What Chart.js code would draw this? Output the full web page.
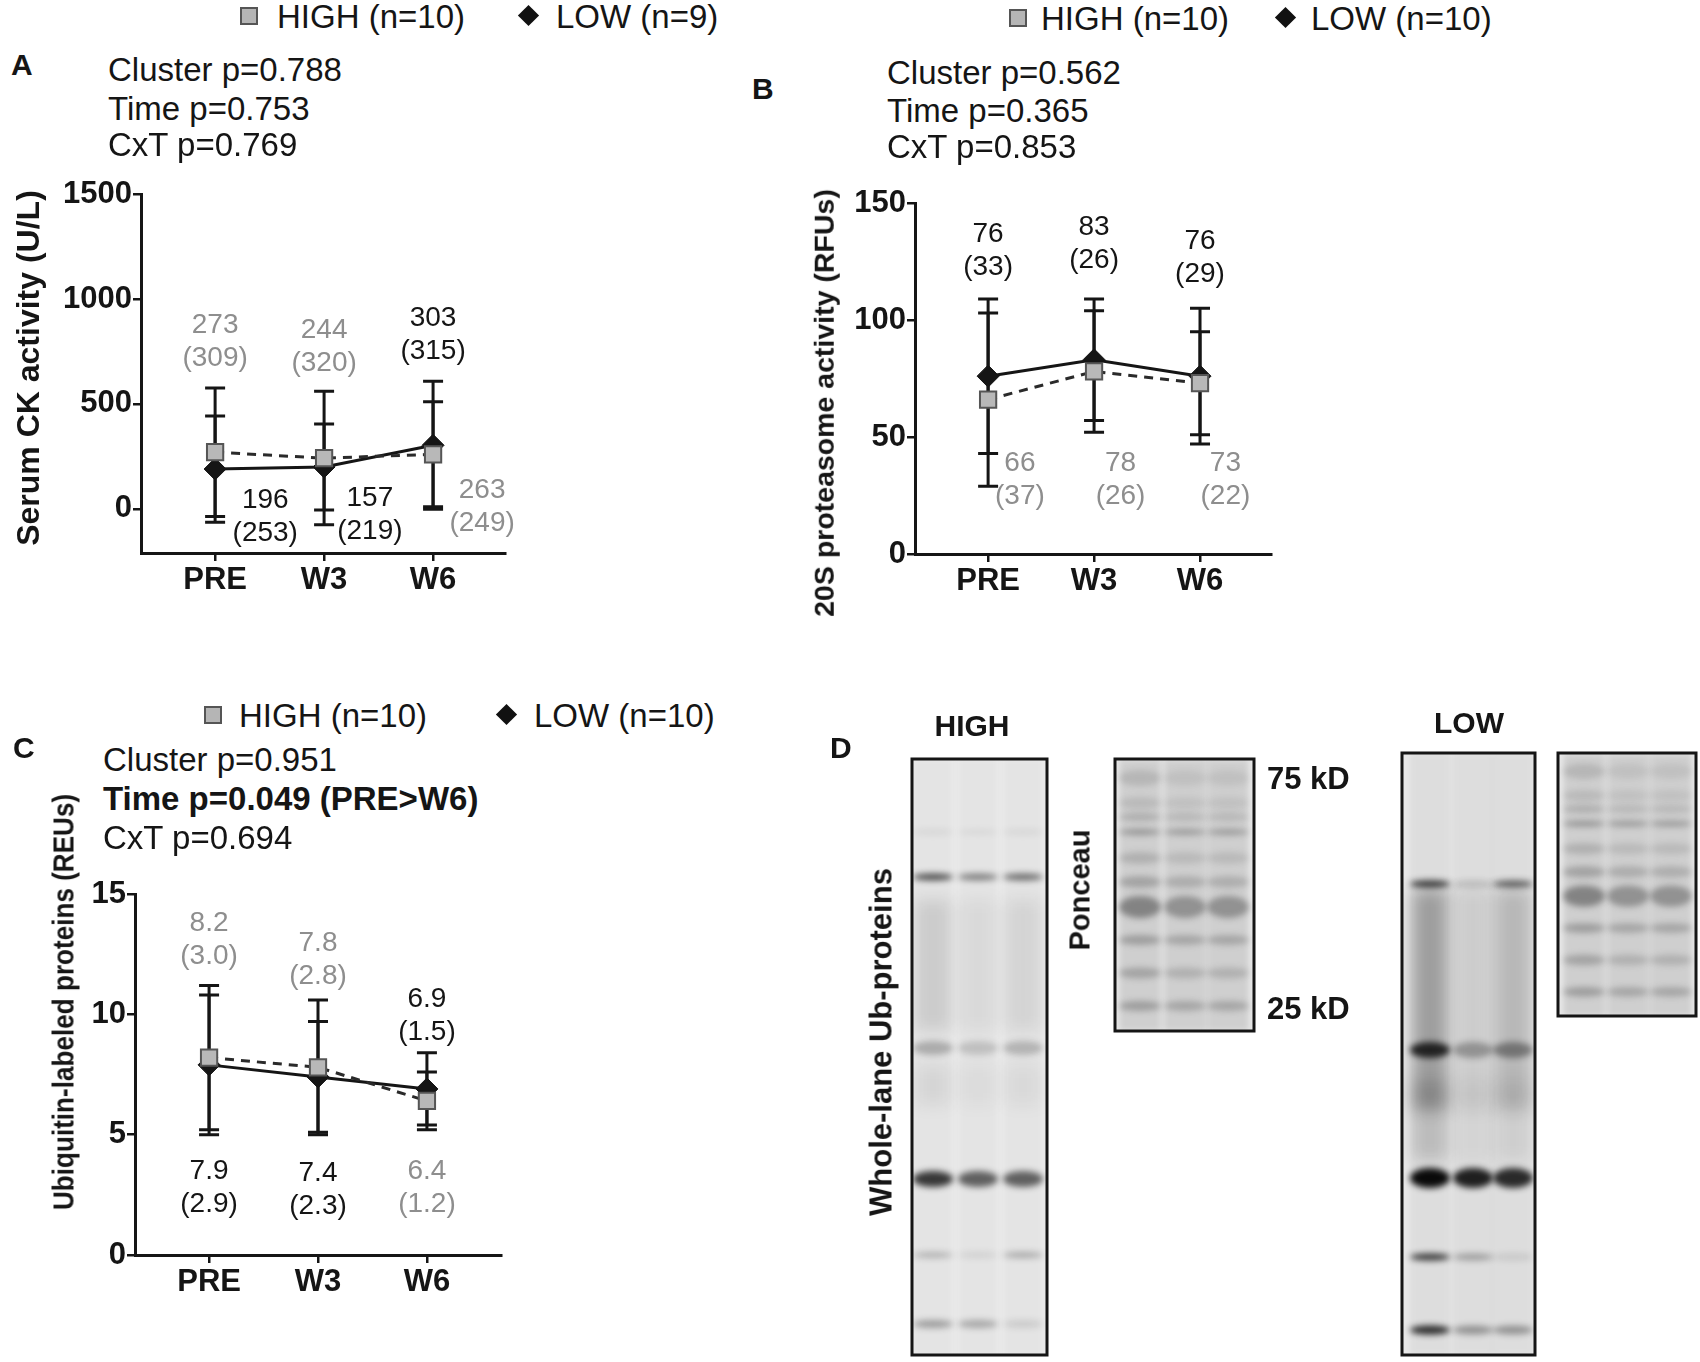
<!DOCTYPE html>
<html>
<head>
<meta charset="utf-8">
<script src="https://cdn.jsdelivr.net/npm/chart.js@4.4.1/dist/chart.umd.min.js"></script>
<style>
  html, body { margin: 0; padding: 0; background: #fff; }
  body { width: 1700px; height: 1362px; position: relative; overflow: hidden;
         font-family: 'Liberation Sans', Arial, sans-serif; color: #151515; }
  .t { position: absolute; white-space: nowrap; line-height: 1; transform: translateY(-50%); }
  .stat, .legend { font-size: 33px; }
  .letter { font-size: 30px; font-weight: bold; }
  .bold { font-weight: bold; }
  .ytitle { position: absolute; white-space: nowrap; font-weight: bold; line-height: 1; }
  canvas { position: absolute; }
  .sq { position: absolute; width: 14px; height: 14px; background: #b5b5b5; border: 2px solid #555; }
  .dm { position: absolute; width: 15px; height: 15px; background: #111; transform: rotate(45deg); }
</style>
</head>
<body>

<canvas id="chartA" width="500" height="475" style="left:40px;top:150px"></canvas>
<canvas id="chartB" width="490" height="470" style="left:815px;top:160px"></canvas>
<canvas id="chartC" width="500" height="470" style="left:35px;top:850px"></canvas>
<canvas id="blots" width="880" height="662" style="left:820px;top:700px"></canvas>

<!-- panel A header -->
<div class="sq" style="left:240px;top:7px"></div>
<div class="t legend" style="left:277px;top:16px">HIGH (n=10)</div>
<div class="dm" style="left:521px;top:8px"></div>
<div class="t legend" style="left:556px;top:16px">LOW (n=9)</div>
<div class="t letter" style="left:11px;top:65px">A</div>
<div class="t stat" style="left:108px;top:69px">Cluster p=0.788</div>
<div class="t stat" style="left:108px;top:108px">Time p=0.753</div>
<div class="t stat" style="left:108px;top:144px">CxT p=0.769</div>
<div class="ytitle" style="left:28px;top:368px;font-size:32px;transform:translate(-50%,-50%) rotate(-90deg)">Serum CK activity (U/L)</div>

<!-- panel B header -->
<div class="sq" style="left:1009px;top:9px"></div>
<div class="t legend" style="left:1041px;top:18px">HIGH (n=10)</div>
<div class="dm" style="left:1278px;top:10px"></div>
<div class="t legend" style="left:1311px;top:18px">LOW (n=10)</div>
<div class="t letter" style="left:752px;top:89px">B</div>
<div class="t stat" style="left:887px;top:72px">Cluster p=0.562</div>
<div class="t stat" style="left:887px;top:110px">Time p=0.365</div>
<div class="t stat" style="left:887px;top:146px">CxT p=0.853</div>
<div class="ytitle" style="left:824px;top:403px;font-size:28.5px;transform:translate(-50%,-50%) rotate(-90deg)">20S proteasome activity (RFUs)</div>

<!-- panel C header -->
<div class="sq" style="left:204px;top:706px"></div>
<div class="t legend" style="left:239px;top:715px">HIGH (n=10)</div>
<div class="dm" style="left:499px;top:707px"></div>
<div class="t legend" style="left:534px;top:715px">LOW (n=10)</div>
<div class="t letter" style="left:13px;top:748px">C</div>
<div class="t stat" style="left:103px;top:759px">Cluster p=0.951</div>
<div class="t stat bold" style="left:103px;top:798px">Time p=0.049 (PRE&gt;W6)</div>
<div class="t stat" style="left:103px;top:837px">CxT p=0.694</div>
<div class="ytitle" style="left:64px;top:1002px;font-size:29px;transform:translate(-50%,-50%) rotate(-90deg) scaleX(0.9)">Ubiquitin-labeled proteins (REUs)</div>

<!-- panel D labels -->
<div class="t letter" style="left:830px;top:748px">D</div>
<div class="t letter" style="left:972px;top:726px;transform:translate(-50%,-50%)">HIGH</div>
<div class="t letter" style="left:1469px;top:723px;transform:translate(-50%,-50%)">LOW</div>
<div class="t bold" style="left:1267px;top:778px;font-size:31px">75 kD</div>
<div class="t bold" style="left:1267px;top:1008px;font-size:31px">25 kD</div>
<div class="ytitle" style="left:1080px;top:890px;font-size:29px;transform:translate(-50%,-50%) rotate(-90deg)">Ponceau</div>
<div class="ytitle" style="left:881px;top:1042px;font-size:31px;transform:translate(-50%,-50%) rotate(-90deg)">Whole-lane Ub-proteins</div>

<script>
const timePoints = ['PRE', 'W3', 'W6'];

// A: serum CK activity (U/L), plotted mean and SD
const ckHighMean = [270, 242, 260];
const ckHighSd = [306, 318, 250];
const ckLowMean = [190, 200, 303];
const ckLowSd = [253, 205, 305];
const ckTicks = [0, 500, 1000, 1500];
// printed "mean (SD)" labels
const ckHighText = [['273', '309'], ['244', '320'], ['263', '249']];
const ckLowText = [['196', '253'], ['157', '219'], ['303', '315']];

// B: 20S proteasome activity (RFUs)
const protHighMean = [66, 78, 73];
const protHighSd = [37, 26, 22];
const protLowMean = [76, 83, 76];
const protLowSd = [33, 26, 29];
const protTicks = [0, 50, 100, 150];
const protHighText = [['66', '37'], ['78', '26'], ['73', '22']];
const protLowText = [['76', '33'], ['83', '26'], ['76', '29']];

// C: ubiquitin-labeled proteins (REUs)
const ubHighMean = [8.2, 7.8, 6.4];
const ubHighSd = [3.0, 2.8, 1.2];
const ubLowMean = [7.9, 7.4, 6.9];
const ubLowSd = [2.9, 2.3, 1.5];
const ubTicks = [0, 5, 10, 15];
const ubHighText = [['8.2', '3.0'], ['7.8', '2.8'], ['6.4', '1.2']];
const ubLowText = [['7.9', '2.9'], ['7.4', '2.3'], ['6.9', '1.5']];

const FONT = "'Liberation Sans', Arial, sans-serif";
const INK = '#151515';
const GREY_TEXT = '#8e8e8e';

Chart.defaults.font.family = FONT;

// where the "mean (SD)" text sits, in data units [x, y]
const ckSpots = { high: [[0, 798], [1, 774], [2.45, 14]], low: [[0.46, -33], [1.42, -24], [2, 831]] };
const protSpots = { high: [[0.3, 32], [1.25, 32], [2.24, 32]], low: [[0, 130], [1, 132.7], [2, 126.7]] };
const ubSpots = { high: [[0, 13.1], [1, 12.3], [2, 2.82]], low: [[0, 2.82], [1, 2.74], [2, 9.96]] };

function toPoints(values) {
  return values.map((v, i) => ({ x: i, y: v }));
}

// mean +/- SD whiskers, drawn below the lines and markers
const errorBars = {
  id: 'errorBars',
  beforeDatasetsDraw(chart) {
    const { ctx, scales: { x, y } } = chart;
    ctx.save();
    ctx.strokeStyle = INK;
    ctx.lineWidth = 3;
    chart.data.datasets.forEach((ds) => {
      ds.data.forEach((pt, j) => {
        const px = x.getPixelForValue(pt.x);
        const top = y.getPixelForValue(pt.y + ds.errors[j]);
        const bot = y.getPixelForValue(pt.y - ds.errors[j]);
        ctx.beginPath();
        ctx.moveTo(px, top);
        ctx.lineTo(px, bot);
        ctx.moveTo(px - 10, top);
        ctx.lineTo(px + 10, top);
        ctx.moveTo(px - 10, bot);
        ctx.lineTo(px + 10, bot);
        ctx.stroke();
      });
    });
    ctx.restore();
  }
};

function meanLabels(items) {
  return {
    id: 'meanLabels',
    afterDatasetsDraw(chart) {
      const { ctx, scales: { x, y } } = chart;
      ctx.save();
      ctx.font = '28px ' + FONT;
      ctx.textAlign = 'center';
      ctx.textBaseline = 'middle';
      items.forEach((item) => {
        const px = x.getPixelForValue(item.at[0]);
        const py = y.getPixelForValue(item.at[1]);
        ctx.fillStyle = item.color;
        ctx.fillText(item.text[0], px, py - 16);
        ctx.fillText('(' + item.text[1] + ')', px, py + 17);
      });
      ctx.restore();
    }
  };
}

function buildItems(highText, lowText, spots) {
  const high = highText.map((t, i) => ({ text: t, at: spots.high[i], color: GREY_TEXT }));
  const low = lowText.map((t, i) => ({ text: t, at: spots.low[i], color: INK }));
  return high.concat(low);
}

function drawPanel(id, cfg) {
  return new Chart(document.getElementById(id), {
    type: 'line',
    data: {
      datasets: [
        {
          label: 'HIGH',
          data: toPoints(cfg.highMean),
          errors: cfg.highSd,
          borderColor: '#2a2a2a',
          borderWidth: 3,
          borderDash: [9, 7],
          pointStyle: 'rect',
          pointRadius: 11.5,
          pointBackgroundColor: '#b8b8b8',
          pointBorderColor: '#555',
          pointBorderWidth: 2
        },
        {
          label: 'LOW',
          data: toPoints(cfg.lowMean),
          errors: cfg.lowSd,
          borderColor: INK,
          borderWidth: 3,
          pointStyle: 'rectRot',
          pointRadius: 11,
          pointBackgroundColor: INK,
          pointBorderColor: INK,
          pointBorderWidth: 1
        }
      ]
    },
    options: {
      responsive: false,
      animation: false,
      layout: { autoPadding: false, padding: cfg.padding },
      plugins: { legend: { display: false }, tooltip: { enabled: false } },
      scales: {
        x: {
          type: 'linear',
          min: cfg.xRange[0],
          max: cfg.xRange[1],
          afterBuildTicks: (s) => { s.ticks = timePoints.map((_, i) => ({ value: i })); },
          afterFit: (s) => { s.height = 60; },
          ticks: {
            callback: (v) => timePoints[v],
            font: { size: 31, weight: 'bold' },
            color: INK,
            padding: 1
          },
          grid: { drawOnChartArea: false, tickLength: 8, lineWidth: 2.5, color: INK },
          border: { color: INK, width: 3 }
        },
        y: {
          type: 'linear',
          min: cfg.yRange[0],
          max: cfg.yRange[1],
          afterBuildTicks: (s) => { s.ticks = cfg.ticks.map((v) => ({ value: v })); },
          afterFit: (s) => { s.width = cfg.yWidth; },
          ticks: {
            callback: (v) => String(v),
            font: { size: 31, weight: 'bold' },
            color: INK,
            padding: 1
          },
          grid: { drawOnChartArea: false, tickLength: 8, lineWidth: 2.5, color: INK },
          border: { color: INK, width: 3 }
        }
      }
    },
    plugins: [errorBars, meanLabels(cfg.items)]
  });
}

drawPanel('chartA', {
  highMean: ckHighMean, highSd: ckHighSd, lowMean: ckLowMean, lowSd: ckLowSd,
  ticks: ckTicks, yRange: [-210, 1500], xRange: [-0.68, 2.66],
  yWidth: 101, padding: { left: 0, top: 44, right: 35, bottom: 12 },
  items: buildItems(ckHighText, ckLowText, ckSpots)
});

drawPanel('chartB', {
  highMean: protHighMean, highSd: protHighSd, lowMean: protLowMean, lowSd: protLowSd,
  ticks: protTicks, yRange: [0, 150], xRange: [-0.69, 2.67],
  yWidth: 100, padding: { left: 0, top: 43, right: 34, bottom: 16 },
  items: buildItems(protHighText, protLowText, protSpots)
});

drawPanel('chartC', {
  highMean: ubHighMean, highSd: ubHighSd, lowMean: ubLowMean, lowSd: ubLowSd,
  ticks: ubTicks, yRange: [0, 15], xRange: [-0.68, 2.68],
  yWidth: 100, padding: { left: 0, top: 44, right: 34, bottom: 5 },
  items: buildItems(ubHighText, ubLowText, ubSpots)
});

// ---- panel D: blot images (page coordinates, shifted into the canvas) ----
const blotOrigin = [820, 700];

const highBlotBands = [
  { y: 832, h: 3, a: [0.08, 0.06, 0.08] },
  { y: 877, h: 5, a: [0.75, 0.5, 0.6] },
  { y: 965, h: 130, a: [0.12, 0.05, 0.08] },
  { y: 1048, h: 12, a: [0.28, 0.18, 0.24] },
  { y: 1085, h: 40, a: [0.07, 0.04, 0.05] },
  { y: 1179, h: 14, a: [0.85, 0.65, 0.65] },
  { y: 1255, h: 4, a: [0.25, 0.1, 0.3] },
  { y: 1324, h: 6, a: [0.35, 0.3, 0.12] }
];
const lowBlotBands = [
  { y: 884, h: 5, a: [0.8, 0.15, 0.6] },
  { y: 1000, h: 220, a: [0.3, 0.08, 0.18] },
  { y: 1050, h: 14, a: [0.85, 0.3, 0.4] },
  { y: 1120, h: 80, a: [0.16, 0.04, 0.07] },
  { y: 1178, h: 18, a: [1, 0.9, 0.85] },
  { y: 1257, h: 5, a: [0.8, 0.3, 0.1] },
  { y: 1330, h: 7, a: [0.85, 0.35, 0.35] }
];
const ponceauBands = [
  { y: 778, h: 14, a: [0.18, 0.1, 0.1] },
  { y: 803, h: 10, a: [0.15, 0.1, 0.1] },
  { y: 817, h: 6, a: [0.25, 0.18, 0.18] },
  { y: 832, h: 4, a: [0.45, 0.4, 0.4] },
  { y: 858, h: 10, a: [0.22, 0.15, 0.15] },
  { y: 882, h: 10, a: [0.32, 0.25, 0.24] },
  { y: 907, h: 20, a: [0.55, 0.45, 0.45] },
  { y: 940, h: 8, a: [0.36, 0.3, 0.3] },
  { y: 973, h: 9, a: [0.32, 0.22, 0.22] },
  { y: 1006, h: 8, a: [0.36, 0.3, 0.3] }
];

function drawBlot(ctx, box, lanes, laneW, bands, opts) {
  const [ox, oy] = blotOrigin;
  const bx = box.x - ox, by = box.y - oy;
  ctx.save();
  ctx.fillStyle = opts.bg;
  ctx.fillRect(bx, by, box.w, box.h);
  ctx.beginPath();
  ctx.rect(bx, by, box.w, box.h);
  ctx.clip();
  ctx.filter = 'blur(3px)';
  lanes.forEach((lx) => {
    ctx.fillStyle = opts.lane;
    ctx.fillRect(lx - ox - laneW / 2, by, laneW, box.h);
  });
  bands.forEach((b) => {
    const y = by + (b.y - opts.y0) * opts.scale;
    const h = b.h * opts.scale;
    lanes.forEach((lx, i) => {
      ctx.fillStyle = 'rgba(' + opts.ink + ',' + b.a[i] + ')';
      if (h > 25) {
        // broad smear down the lane
        ctx.filter = 'blur(8px)';
        ctx.fillRect(lx - ox - laneW / 2 + 3, y - h / 2, laneW - 6, h);
        ctx.filter = 'blur(3px)';
      } else {
        ctx.beginPath();
        ctx.ellipse(lx - ox, y, laneW / 2, h / 2 + 1, 0, 0, Math.PI * 2);
        ctx.fill();
      }
    });
  });
  ctx.restore();
  ctx.lineWidth = 3;
  ctx.strokeStyle = INK;
  ctx.strokeRect(bx, by, box.w, box.h);
}

const bctx = document.getElementById('blots').getContext('2d');
drawBlot(bctx, { x: 912, y: 759, w: 135, h: 596 }, [933, 978, 1023], 40, highBlotBands,
  { bg: '#ececec', lane: 'rgba(0,0,0,0.03)', ink: '25,25,25', y0: 759, scale: 1 });
drawBlot(bctx, { x: 1115, y: 759, w: 139, h: 272 }, [1140, 1185, 1228], 42, ponceauBands,
  { bg: '#ececec', lane: 'rgba(0,0,0,0.12)', ink: '70,70,70', y0: 759, scale: 1 });
drawBlot(bctx, { x: 1402, y: 753, w: 133, h: 602 }, [1430, 1473, 1513], 40, lowBlotBands,
  { bg: '#e9e9e9', lane: 'rgba(0,0,0,0.05)', ink: '10,10,10', y0: 753, scale: 1 });
drawBlot(bctx, { x: 1558, y: 753, w: 138, h: 263 }, [1584, 1628, 1671], 42, ponceauBands,
  { bg: '#ececec', lane: 'rgba(0,0,0,0.12)', ink: '70,70,70', y0: 759, scale: 263 / 272 });
</script>
</body>
</html>
